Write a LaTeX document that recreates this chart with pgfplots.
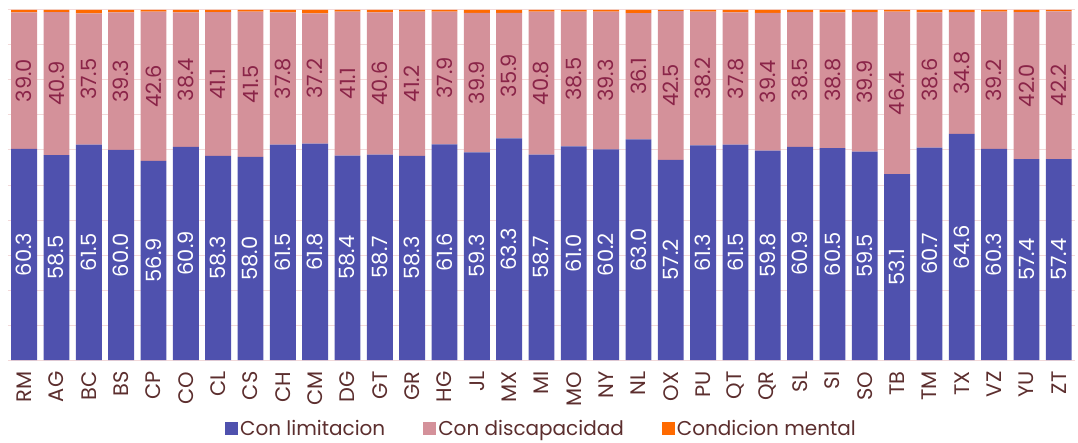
\documentclass[border=0pt]{standalone}
\usepackage{pgfplots}
\usepackage{pgfplotstable}
\pgfplotsset{compat=1.18}
\usepackage{fontspec}
\setmainfont{Poppins}
\definecolor{cblue}{HTML}{4F51AE}
\definecolor{cpink}{HTML}{D4919A}
\definecolor{corange}{HTML}{FF6A00}
\definecolor{cgrid}{HTML}{F2D9D9}
\definecolor{ctext}{HTML}{5C2E2E}
\definecolor{clab}{HTML}{8A2448}
\pgfplotstableread{
x lab a b c
0 RM 60.3 39.0 0.7
1 AG 58.5 40.9 0.6
2 BC 61.5 37.5 1.0
3 BS 60.0 39.3 0.7
4 CP 56.9 42.6 0.5
5 CO 60.9 38.4 0.7
6 CL 58.3 41.1 0.6
7 CS 58.0 41.5 0.5
8 CH 61.5 37.8 0.7
9 CM 61.8 37.2 1.0
10 DG 58.4 41.1 0.5
11 GT 58.7 40.6 0.7
12 GR 58.3 41.2 0.5
13 HG 61.6 37.9 0.5
14 JL 59.3 39.9 0.8
15 MX 63.3 35.9 0.8
16 MI 58.7 40.8 0.5
17 MO 61.0 38.5 0.5
18 NY 60.2 39.3 0.5
19 NL 63.0 36.1 0.9
20 OX 57.2 42.5 0.3
21 PU 61.3 38.2 0.5
22 QT 61.5 37.8 0.7
23 QR 59.8 39.4 0.8
24 SL 60.9 38.5 0.6
25 SI 60.5 38.8 0.7
26 SO 59.5 39.9 0.6
27 TB 53.1 46.4 0.5
28 TM 60.7 38.6 0.7
29 TX 64.6 34.8 0.6
30 VZ 60.3 39.2 0.5
31 YU 57.4 42.0 0.6
32 ZT 57.4 42.2 0.4
}\datatable
\begin{document}
\begin{tikzpicture}
\useasboundingbox (-8pt,-82pt) rectangle (1070pt,360pt);
\pgfplotsset{base/.style={scale only axis, width=1067pt, height=350pt,
  xmin=-0.5, xmax=32.5, ymin=0, ymax=100}}
\begin{axis}[base, ybar stacked, bar width=0.8,
  axis line style={draw=none},
  ytick={0,10,...,100}, yticklabels={}, ymajorgrids, grid style={cgrid, line width=1pt},
  major tick length=0pt, ytick style={draw=none}, xtick style={draw=none},
  xtick={0,...,32}, xticklabels from table={\datatable}{lab},
  xticklabel style={rotate=90, anchor=east, text=ctext, font=\fontsize{21}{21}\selectfont, xshift=-8pt},
  legend style={at={(0.5,0)}, anchor=north, yshift=-56pt, draw=none, legend columns=3,
    font=\fontsize{20}{20}\selectfont, text=ctext,
    /tikz/every even column/.append style={column sep=36pt}},
]
\addplot[fill=cblue, draw=none, legend image code/.code={\fill[cblue] (0pt,-6pt) rectangle (13pt,7pt);}] table[x=x, y=a] {\datatable};
\addlegendentry{Con limitacion}
\addplot[fill=cpink, draw=none, legend image code/.code={\fill[cpink] (0pt,-6pt) rectangle (13pt,7pt);}] table[x=x, y=b] {\datatable};
\addlegendentry{Con discapacidad}
\addplot[fill=corange, draw=none, legend image code/.code={\fill[corange] (0pt,-6pt) rectangle (13pt,7pt);}] table[x=x, y=c] {\datatable};
\addlegendentry{Condicion mental}
\end{axis}
\begin{axis}[base, hide axis,
  /pgf/number format/assume math mode=true,
  /pgf/number format/.cd, fixed, fixed zerofill, precision=1]
\addplot[draw=none, mark=none, nodes near coords, point meta=explicit,
  every node near coord/.append style={rotate=90, anchor=center, text=white,
    font=\fontsize{21}{21}\selectfont}]
  table[x=x, y expr=\thisrow{a}/2, meta=a] {\datatable};
\addplot[draw=none, mark=none, nodes near coords, point meta=explicit,
  every node near coord/.append style={rotate=90, anchor=center, text=clab,
    font=\fontsize{21}{21}\selectfont}]
  table[x=x, y expr=\thisrow{a}+\thisrow{b}/2, meta=b] {\datatable};
\end{axis}
\end{tikzpicture}
\end{document}
